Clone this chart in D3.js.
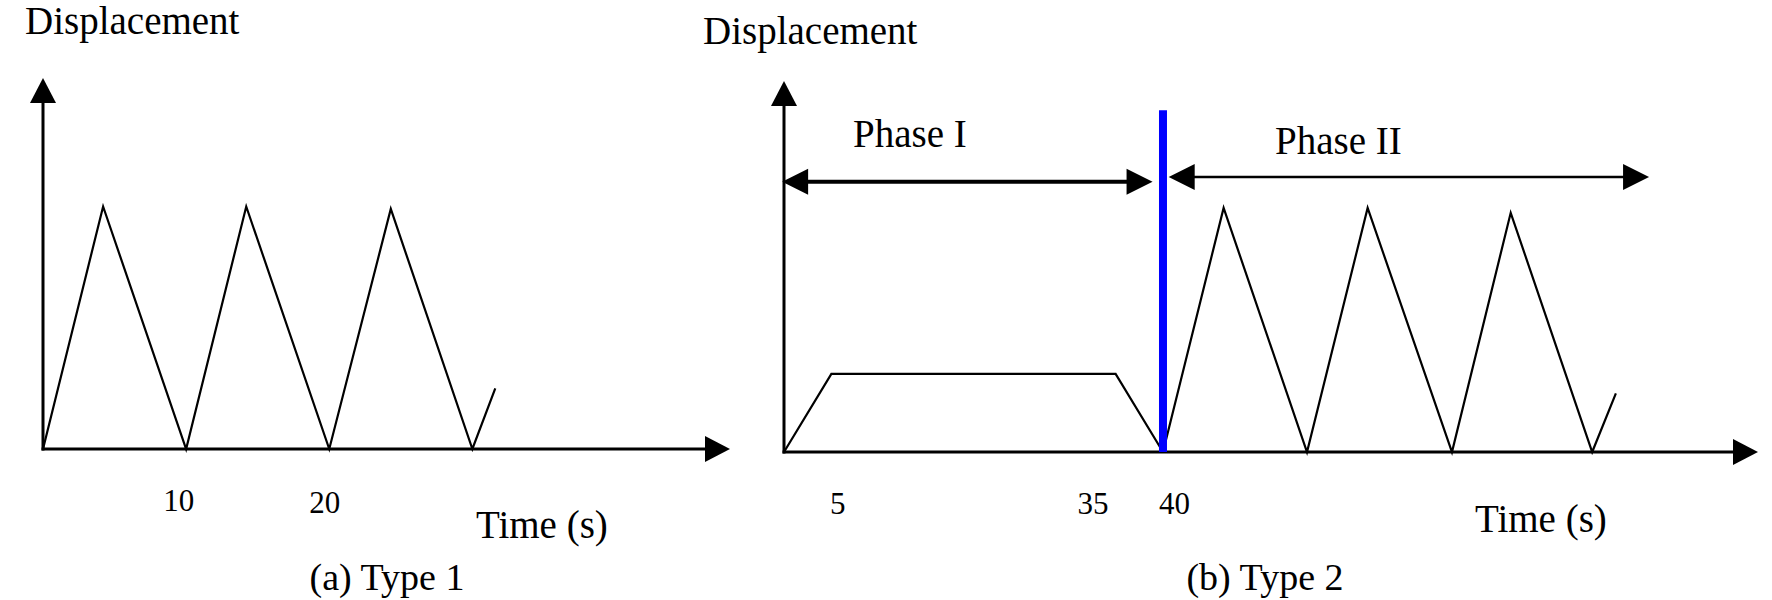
<!DOCTYPE html>
<html>
<head>
<meta charset="utf-8">
<script src="https://cdn.jsdelivr.net/npm/d3@7"></script>
<style>
  body { margin: 0; background: #fff; }
  svg text { font-family: "Liberation Serif", "DejaVu Serif", "Times New Roman", serif; fill: #000; }
</style>
</head>
<body>
<div id="viz_container"></div>
<script>
//Data/////////////////////////////////////////////////////
// (a) Type 1 - triangle loading from t = 0
const timeA = [0, 4.2, 10, 14.2, 20, 24.3, 30, 31.6];
const dispA = [0, 1, 0, 1, 0, 0.99, 0, 0.25];
const ticksA = [10, 20];

// (b) Type 2 - hold phase then triangle loading
const timeB1 = [0, 5, 35, 40];
const dispB1 = [0, 0.32, 0.32, 0];
const timeB2 = [40, 46.4, 55.2, 61.6, 70.5, 76.7, 85.3, 87.8];
const dispB2 = [0, 1, 0, 1, 0, 0.98, 0, 0.24];
const ticksB = [5, 35, 40];
const phaseSplit = 40;
const phaseNames = ["Phase I", "Phase II"];

const width = 1772, height = 600;
const serif = "'Liberation Serif', 'DejaVu Serif', 'Times New Roman', serif";

const svg = d3.select("#viz_container")
  .append("svg")
    .attr("width", width)
    .attr("height", height)
    .attr("font-family", serif);

// draws an arrowhead whose tip is at (x,y), pointing along dir
function arrowHead(g, x, y, dir, len, half) {
  let pts;
  if (dir === "up") pts = [[x, y], [x - half, y + len], [x + half, y + len]];
  if (dir === "right") pts = [[x, y], [x - len, y - half], [x - len, y + half]];
  if (dir === "left") pts = [[x, y], [x + len, y - half], [x + len, y + half]];
  g.append("polygon")
    .attr("points", pts.map(p => p.join(",")).join(" "))
    .attr("fill", "#000");
}

// one panel: axes with arrows, tick labels, titles
function panel(opt) {
  const g = svg.append("g");
  const x = d3.scaleLinear().domain([0, opt.tMax]).range(opt.xRange);
  const y = d3.scaleLinear().domain([0, opt.dMax]).range(opt.yRange);

  // x axis
  const xAxis = g.append("g")
    .attr("transform", `translate(0,${opt.yRange[0]})`)
    .call(d3.axisBottom(x).tickValues(opt.ticks).tickSize(0).tickPadding(40).tickSizeOuter(0));
  xAxis.attr("font-family", serif);
  xAxis.select(".domain").attr("stroke", "#000").attr("stroke-width", 3)
    .attr("d", `M${opt.xRange[0] - 1.5},0H${opt.xRange[1] - 20}`);
  xAxis.selectAll(".tick text")
    .attr("font-size", 31)
    .attr("fill", "#000")
    .attr("dx", (d, i) => opt.nudge[i])
    .attr("dy", (d, i) => 22 + opt.nudgeY[i]);
  arrowHead(g, opt.xRange[1], opt.yRange[0], "right", 25, 13);

  // y axis
  const yAxis = g.append("g")
    .attr("transform", `translate(${opt.xRange[0]},0)`)
    .call(d3.axisLeft(y).tickValues([]).tickSizeOuter(0));
  yAxis.select(".domain").attr("stroke", "#000").attr("stroke-width", 3)
    .attr("d", `M0,${opt.yRange[0] + 1.5}V${opt.yRange[1] + 20}`);
  arrowHead(g, opt.xRange[0], opt.yRange[1], "up", 25, 13);

  g.append("text")
    .attr("x", opt.yTitle[0]).attr("y", opt.yTitle[1])
    .attr("font-size", 39)
    .text("Displacement");
  g.append("text")
    .attr("x", opt.xTitle[0]).attr("y", opt.xTitle[1])
    .attr("font-size", 39)
    .text("Time (s)");
  g.append("text")
    .attr("x", opt.caption[0]).attr("y", opt.caption[1])
    .attr("text-anchor", "middle")
    .attr("font-size", 38)
    .text(opt.captionText);

  return { g, x, y };
}

const line = (x, y) => d3.line().x(d => x(d[0])).y(d => y(d[1]));

// (a)
const pa = panel({
  tMax: 48, dMax: 1.53,
  xRange: [43, 730], yRange: [449, 78],
  ticks: ticksA, nudge: [-8, -5], nudgeY: [0, 2],
  yTitle: [25, 34], xTitle: [476, 538],
  caption: [387, 590], captionText: "(a) Type 1"
});
pa.g.append("path")
  .datum(d3.zip(timeA, dispA))
  .attr("d", line(pa.x, pa.y))
  .attr("fill", "none")
  .attr("stroke", "#000")
  .attr("stroke-width", 2.2);

// (b)
const pb = panel({
  tMax: 102.8, dMax: 1.52,
  xRange: [784, 1758], yRange: [452, 81],
  ticks: ticksB, nudge: [6, -23, 11], nudgeY: [0, 0, 0],
  yTitle: [703, 44], xTitle: [1475, 532],
  caption: [1265, 590], captionText: "(b) Type 2"
});
[d3.zip(timeB1, dispB1), d3.zip(timeB2, dispB2)].forEach(seg => {
  pb.g.append("path")
    .datum(seg)
    .attr("d", line(pb.x, pb.y))
    .attr("fill", "none")
    .attr("stroke", "#000")
    .attr("stroke-width", 2.2);
});

// phase divider
pb.g.append("line")
  .attr("x1", pb.x(phaseSplit)).attr("x2", pb.x(phaseSplit))
  .attr("y1", pb.y(0)).attr("y2", pb.y(1.4))
  .attr("stroke", "#0000ff")
  .attr("stroke-width", 8);

// phase span arrows
function span(t0, t1, d, sw) {
  const xa = pb.x(t0), xb = pb.x(t1), yy = pb.y(d);
  pb.g.append("line")
    .attr("x1", xa + 20).attr("x2", xb - 20)
    .attr("y1", yy).attr("y2", yy)
    .attr("stroke", "#000").attr("stroke-width", sw);
  arrowHead(pb.g, xa, yy, "left", 26, 13);
  arrowHead(pb.g, xb, yy, "right", 26, 13);
}
span(-0.2, 38.9, 1.107, 4);
span(40.6, 91.3, 1.127, 2.5);

pb.g.append("text")
  .attr("x", 853).attr("y", 147)
  .attr("font-size", 39)
  .text(phaseNames[0]);
pb.g.append("text")
  .attr("x", 1275).attr("y", 154)
  .attr("font-size", 39)
  .text(phaseNames[1]);
</script>
</body>
</html>
